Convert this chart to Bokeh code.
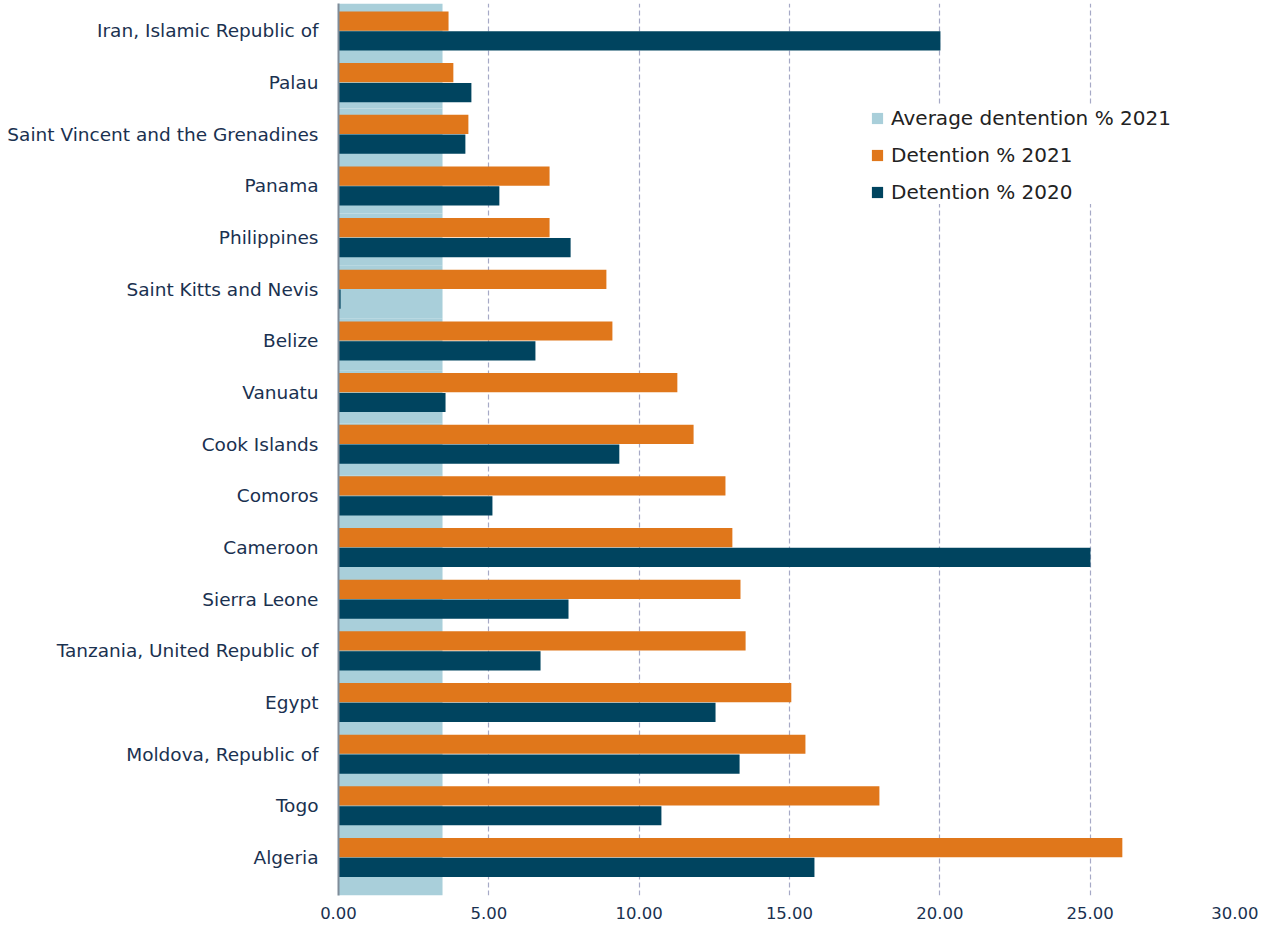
from bokeh.plotting import figure
from bokeh.models import Range1d, FixedTicker, Legend, LegendItem, ColumnDataSource
from bokeh.embed import file_html
from bokeh.resources import INLINE

countries = ["Iran, Islamic Republic of", "Palau", "Saint Vincent and the Grenadines", "Panama",
             "Philippines", "Saint Kitts and Nevis", "Belize", "Vanuatu", "Cook Islands", "Comoros",
             "Cameroon", "Sierra Leone", "Tanzania, United Republic of", "Egypt",
             "Moldova, Republic of", "Togo", "Algeria"]
det_2021 = [3.66, 3.82, 4.32, 7.02, 7.02, 8.91, 9.11, 11.27, 11.81, 12.87, 13.10, 13.37, 13.54,
            15.06, 15.53, 17.99, 26.07]
det_2020 = [20.02, 4.42, 4.22, 5.35, 7.72, 0.07, 6.55, 3.56, 9.34, 5.12, 25.01, 7.65, 6.72,
            12.54, 13.34, 10.74, 15.83]
avg_2021 = [3.46] * len(countries)
x_ticks = [0, 5, 10, 15, 20, 25, 30]

n = len(countries)
ypos = [n - 1 - i for i in range(n)]  # Iran on top

TEXT = "#1a3150"
FONT = "DejaVu Sans"

p = figure(width=1258, height=918, output_backend="svg", toolbar_location=None,
           x_range=Range1d(0, 30), y_range=Range1d(-0.736, 16.532),
           min_border_left=338, min_border_right=18, min_border_top=3, min_border_bottom=20)
p.frame_width = 902
p.frame_height = 892
p.extra_y_ranges = {"avg": Range1d(0, n)}
p.outline_line_color = None
p.background_fill_color = "white"

src = ColumnDataSource(dict(y=ypos, yo=[v + 0.192 for v in ypos], yd=[v - 0.192 for v in ypos],
                            ya=[v + 0.5 for v in ypos], d21=det_2021, d20=det_2020, avg=avg_2021))

r_avg = p.hbar(y="ya", right="avg", left=0, height=1.0, source=src, y_range_name="avg",
               fill_color="#a9cfda", line_color=None)
r21 = p.hbar(y="yo", right="d21", left=0, height=0.372, source=src,
             fill_color="#e0771b", line_color=None)
r20 = p.hbar(y="yd", right="d20", left=0, height=0.372, source=src,
             fill_color="#00445f", line_color=None)

# axes
p.xaxis.ticker = FixedTicker(ticks=x_ticks)
p.xaxis.major_label_overrides = {t: f"{t:.2f}" for t in x_ticks}
p.xaxis.axis_line_color = None
p.xaxis.major_tick_line_color = None
p.xaxis.minor_tick_line_color = None
p.xaxis.major_label_standoff = 5
p.xaxis.major_label_text_font = FONT
p.xaxis.major_label_text_font_size = "16.5px"
p.xaxis.major_label_text_color = TEXT

p.yaxis.ticker = FixedTicker(ticks=ypos)
p.yaxis.major_label_overrides = {ypos[i]: countries[i] for i in range(n)}
p.yaxis.axis_line_color = "#7f8c99"
p.yaxis.axis_line_width = 2
p.yaxis.major_tick_line_color = None
p.yaxis.minor_tick_line_color = None
p.yaxis.major_label_standoff = 14
p.yaxis.major_label_text_font = FONT
p.yaxis.major_label_text_font_size = "18.5px"
p.yaxis.major_label_text_color = TEXT

p.ygrid.grid_line_color = None
p.xgrid.ticker = FixedTicker(ticks=x_ticks[1:])
p.xgrid.grid_line_color = "#a6a9c6"
p.xgrid.grid_line_dash = "5 3"
p.xgrid.grid_line_width = 1.2

legend = Legend(items=[LegendItem(label="Average dentention % 2021", renderers=[r_avg]),
                       LegendItem(label="Detention % 2021", renderers=[r21]),
                       LegendItem(label="Detention % 2020", renderers=[r20])],
                location=(532, 691))
legend.border_line_color = None
legend.background_fill_color = "white"
legend.background_fill_alpha = 1
legend.glyph_width = 14
legend.glyph_height = 14
legend.label_height = 20
legend.spacing = 13
legend.padding = 8
legend.label_standoff = 7
legend.label_text_font = FONT
legend.label_text_font_size = "20px"
legend.label_text_color = "#222222"
p.add_layout(legend)

open("out.html", "w").write(file_html(p, INLINE))
